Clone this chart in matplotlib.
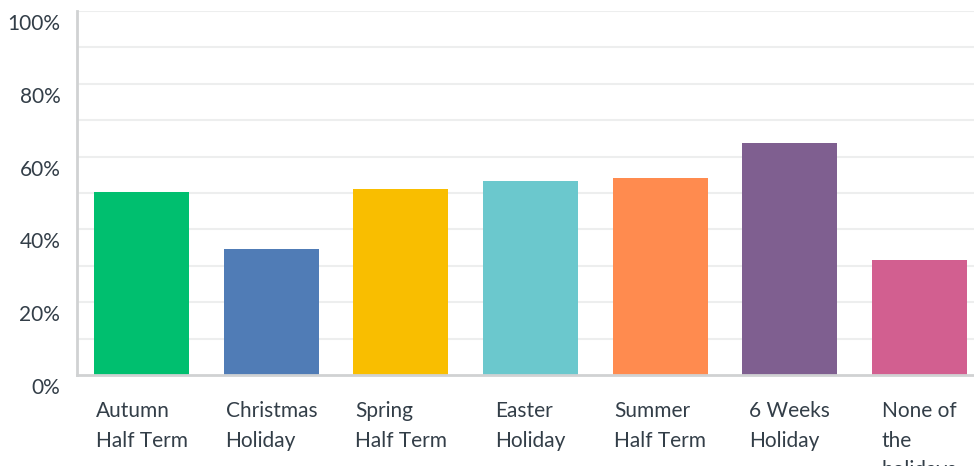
import matplotlib.pyplot as plt
import matplotlib.transforms as mtransforms

plt.rcParams['font.family'] = ['Lato', 'DejaVu Sans']

# Chart data
categories = ["Autumn\nHalf Term", "Christmas\nHoliday", "Spring\nHalf Term",
              "Easter\nHoliday", "Summer\nHalf Term", "6 Weeks\nHoliday",
              "None of\nthe\nholidays"]
values = [50.3, 34.6, 51.1, 53.3, 54.1, 63.7, 31.6]
colors = ["#00BF6F", "#507CB6", "#F9BE00", "#6BC8CD", "#FF8B4F", "#7F5F90", "#D25F90"]
yticks = [0, 20, 40, 60, 80, 100]
ytick_labels = ["0%", "20%", "40%", "60%", "80%", "100%"]

text_color = "#333E48"

fig = plt.figure(figsize=(9.74, 4.66), dpi=100)
ax = fig.add_axes([77 / 974, 91 / 466, 907 / 974, 364 / 466])

x = list(range(len(categories)))
ax.bar(x, values, width=0.733, color=colors, zorder=3)

ax.set_xlim(-0.5, len(categories) - 0.5)
ax.set_ylim(0, 100)

# light grid every 10%
for g in range(10, 101, 10):
    ax.axhline(g, color="#EDEEEE", linewidth=1.5, zorder=1)

ax.set_yticks(yticks)
ax.set_yticklabels(ytick_labels, fontsize=15, color=text_color)
ax.tick_params(axis="y", length=0, pad=12)
offset = mtransforms.ScaledTranslation(0, -11 / 100, fig.dpi_scale_trans)
for lbl in ax.get_yticklabels():
    lbl.set_transform(lbl.get_transform() + offset)

ax.set_xticks(x)
ax.set_xticklabels(categories, fontsize=15, color=text_color,
                   multialignment="left", linespacing=1.58)
ax.tick_params(axis="x", length=0, pad=19)

for side in ["top", "right"]:
    ax.spines[side].set_visible(False)
ax.spines["left"].set_color("#D0D2D3")
ax.spines["left"].set_linewidth(2)
ax.spines["bottom"].set_color("#D0D2D3")
ax.spines["bottom"].set_linewidth(2)
ax.spines["left"].set_zorder(4)
ax.spines["bottom"].set_zorder(4)

fig.savefig("out.png", dpi=100)
